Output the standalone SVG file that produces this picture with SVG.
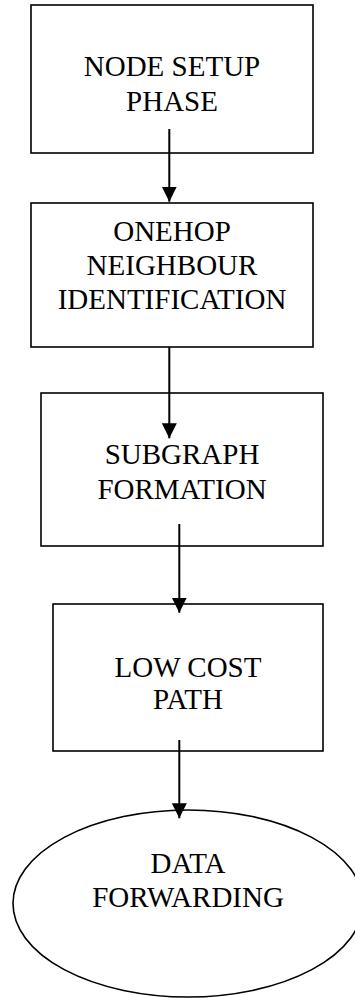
<svg xmlns="http://www.w3.org/2000/svg" width="355" height="998" viewBox="0 0 355 998">
<style>
.box{fill:#fff;stroke:#000;stroke-width:1.6}
.lbl{font-family:"Liberation Serif","Times New Roman",serif;font-size:29px;fill:#000;text-anchor:middle}
.conn{stroke:#000;stroke-width:2;fill:none;marker-end:url(#arr)}
</style>
<defs>
<marker id="arr" markerUnits="userSpaceOnUse" markerWidth="16" markerHeight="16" refX="15" refY="7.5" orient="auto" viewBox="0 0 16 16">
<path d="M0,0 L15,7.5 L0,15 z" fill="#000"/>
</marker>
</defs>
<rect width="355" height="998" fill="#fff"/>
<g id="n1">
<rect class="box" x="31" y="5" width="282" height="148"/>
<text class="lbl" x="172" y="76">NODE SETUP</text>
<text class="lbl" x="172" y="110.5">PHASE</text>
</g>
<g id="n2">
<rect class="box" x="31" y="203" width="282" height="144"/>
<text class="lbl" x="172" y="241">ONEHOP</text>
<text class="lbl" x="172" y="275">NEIGHBOUR</text>
<text class="lbl" x="172" y="309">IDENTIFICATION</text>
</g>
<g id="n3">
<rect class="box" x="41" y="393" width="282" height="153"/>
<text class="lbl" x="182" y="464">SUBGRAPH</text>
<text class="lbl" x="182" y="499">FORMATION</text>
</g>
<g id="n4">
<rect class="box" x="53" y="604" width="270" height="147"/>
<text class="lbl" x="188" y="676.5">LOW COST</text>
<text class="lbl" x="188" y="709">PATH</text>
</g>
<g id="n5">
<ellipse class="box" cx="188" cy="903.5" rx="175" ry="93.5"/>
<text class="lbl" x="188" y="872.5">DATA</text>
<text class="lbl" x="188" y="906.5">FORWARDING</text>
</g>
<g id="connectors">
<line class="conn" x1="169.3" y1="129" x2="169.3" y2="201.7"/>
<line class="conn" x1="169.3" y1="347" x2="169.3" y2="438.3"/>
<line class="conn" x1="179.3" y1="524" x2="179.3" y2="612.7"/>
<line class="conn" x1="179.3" y1="740" x2="179.3" y2="818.3"/>
</g>
</svg>
